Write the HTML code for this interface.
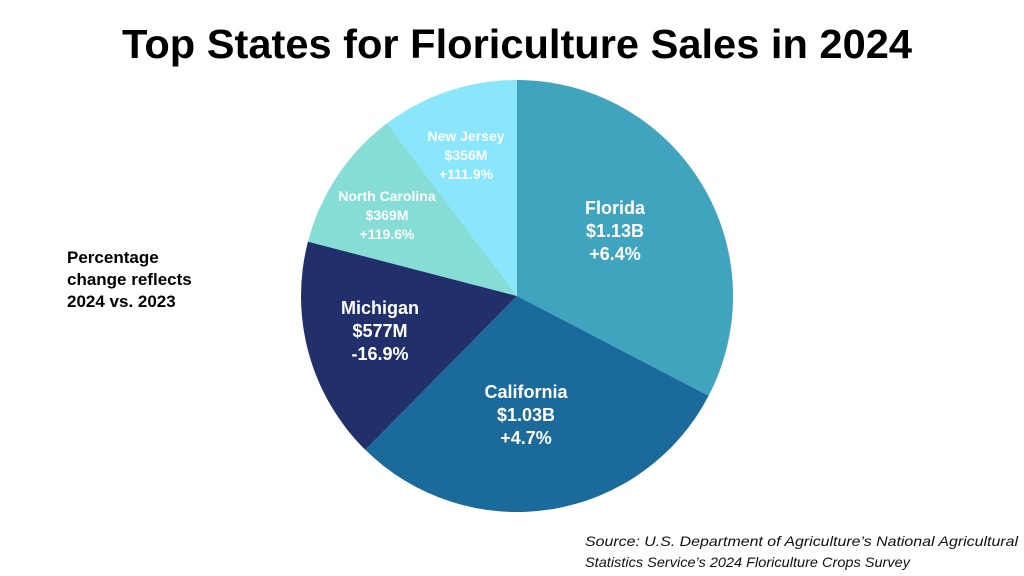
<!DOCTYPE html>
<html><head><meta charset="utf-8"><style>
html,body{margin:0;padding:0;background:#fff;}
svg{display:block;font-family:"Liberation Sans",sans-serif;}
</style></head><body>
<svg width="1024" height="576" viewBox="0 0 1024 576">
<text x="517" y="58" font-size="41" font-weight="bold" text-anchor="middle" textLength="790" lengthAdjust="spacingAndGlyphs" fill="#000">Top States for Floriculture Sales in 2024</text>
<g stroke="none">
<path d="M517,296 L517,80 A216,216 0 0 1 708.6,395.8 Z" fill="#40a4bf"/>
<path d="M517,296 L708.6,395.8 A216,216 0 0 1 365.3,449.8 Z" fill="#1a6a9c"/>
<path d="M517,296 L365.3,449.8 A216,216 0 0 1 308,241.6 Z" fill="#212f6a"/>
<path d="M517,296 L308,241.6 A216,216 0 0 1 387,123.4 Z" fill="#85ddd5"/>
<path d="M517,296 L387,123.4 A216,216 0 0 1 517,80 Z" fill="#8ae6fb"/>
</g>
<g fill="#fff" font-weight="bold" text-anchor="middle">
<g font-size="18"><text x="615" y="214">Florida</text><text x="615" y="237">$1.13B</text><text x="615" y="260">+6.4%</text></g>
<g font-size="18"><text x="526" y="398">California</text><text x="526" y="421">$1.03B</text><text x="526" y="444">+4.7%</text></g>
<g font-size="18"><text x="380" y="314">Michigan</text><text x="380" y="337">$577M</text><text x="380" y="360">-16.9%</text></g>
<g font-size="14"><text x="387" y="201">North Carolina</text><text x="387" y="220">$369M</text><text x="387" y="239">+119.6%</text></g>
<g font-size="14"><text x="466" y="141">New Jersey</text><text x="466" y="160">$356M</text><text x="466" y="179">+111.9%</text></g>
</g>
<g font-size="17" font-weight="bold" fill="#000">
<text x="67" y="263">Percentage</text><text x="67" y="285">change reflects</text><text x="67" y="307">2024 vs. 2023</text>
</g>
<g font-size="14" font-style="italic" fill="#111">
<text x="585" y="546" textLength="433" lengthAdjust="spacingAndGlyphs">Source: U.S. Department of Agriculture’s National Agricultural</text>
<text x="585" y="567" textLength="325" lengthAdjust="spacingAndGlyphs">Statistics Service’s 2024 Floriculture Crops Survey</text>
</g>
</svg>
</body></html>
